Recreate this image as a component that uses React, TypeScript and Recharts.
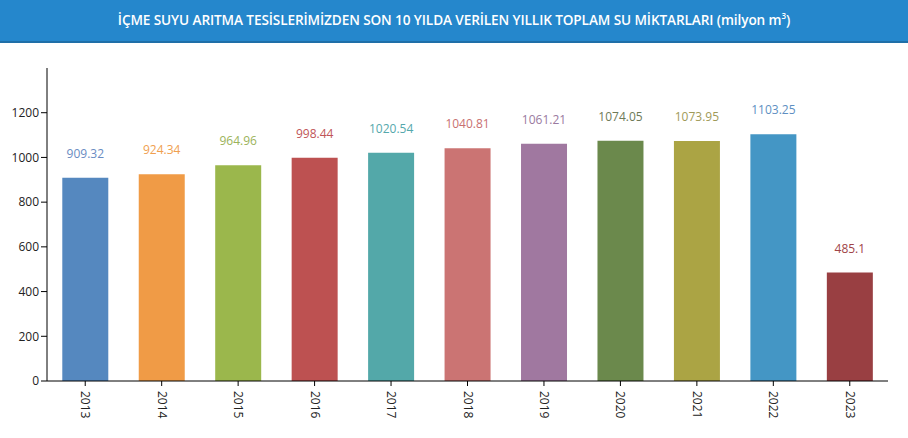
import React from "react";
import { BarChart, Bar, XAxis, YAxis, Cell, LabelList } from "recharts";

const years = ["2013", "2014", "2015", "2016", "2017", "2018", "2019", "2020", "2021", "2022", "2023"];
const amounts = [909.32, 924.34, 964.96, 998.44, 1020.54, 1040.81, 1061.21, 1074.05, 1073.95, 1103.25, 485.1];
const barColors = ["#5588bf", "#f09b46", "#9bb74c", "#bd5151", "#53a8a9", "#cb7473", "#a078a0", "#6b894c", "#aba444", "#4496c5", "#993f42"];
const labelColors = ["#6a8cc2", "#f0a050", "#9bb35a", "#c05558", "#55a8ac", "#c87070", "#9a7aa0", "#6e7a58", "#9f9a58", "#5e8fc2", "#a04448"];
const yTicks = [0, 200, 400, 600, 800, 1000, 1200];
const title = "İÇME SUYU ARITMA TESİSLERİMİZDEN SON 10 YILDA VERİLEN YILLIK TOPLAM SU MİKTARLARI (milyon m";

const data = years.map((y, i) => ({ year: y, value: amounts[i] }));

const XTick = (props: any) => {
  const { x, y, payload } = props;
  return (
    <g>
      <line x1={x} y1={y - 8} x2={x} y2={y - 3} stroke="#000" />
      <text
        x={0}
        y={0}
        transform={`translate(${x - 4},${y + 2}) rotate(90)`}
        fontSize={12}
        fill="#222"
        fontFamily="'Open Sans', sans-serif"
        textAnchor="start"
      >
        {payload.value}
      </text>
    </g>
  );
};

const ValueLabel = (props: any) => {
  const { x, y, width, index, value } = props;
  return (
    <text
      x={x + width / 2}
      y={y - 20}
      textAnchor="middle"
      fontSize={12}
      fill={labelColors[index]}
      fontFamily="'Open Sans', sans-serif"
    >
      {value}
    </text>
  );
};

export default function App() {
  return (
    <div style={{ width: 908, height: 438, background: "#fff", position: "relative" }}>
      <style>{`body{margin:0}`}</style>
      <div
        style={{
          position: "absolute",
          left: 0,
          top: 0,
          width: 908,
          height: 41,
          background: "#2587cc",
          borderBottom: "2px solid #1f6fa8",
          color: "#fff",
          fontFamily: "'Open Sans', sans-serif",
          fontWeight: 600,
          fontSize: 13.6,
          letterSpacing: -0.1,
          lineHeight: "39px",
          textAlign: "center",
        }}
      >
        {title}
        <sup style={{ fontSize: 8, lineHeight: 0 }}>3</sup>)
      </div>
      <div style={{ position: "absolute", left: 0, top: 42 }}>
        <BarChart
          width={908}
          height={396}
          data={data}
          margin={{ top: 26, right: 20, bottom: 0, left: 0 }}
          barCategoryGap="20%"
        >
          <YAxis
            domain={[0, 1400]}
            ticks={yTicks}
            width={47}
            tickLine={{ stroke: "#000" }}
            axisLine={{ stroke: "#000" }}
            tick={{ fontSize: 12, fill: "#222", fontFamily: "'Open Sans', sans-serif" }}
            interval={0}
          />
          <XAxis
            dataKey="year"
            height={57}
            interval={0}
            tickLine={false}
            axisLine={{ stroke: "#000" }}
            tick={<XTick />}
          />
          <Bar dataKey="value" isAnimationActive={false}>
            {data.map((d, i) => (
              <Cell key={d.year} fill={barColors[i]} />
            ))}
            <LabelList dataKey="value" content={<ValueLabel />} />
          </Bar>
        </BarChart>
      </div>
    </div>
  );
}
